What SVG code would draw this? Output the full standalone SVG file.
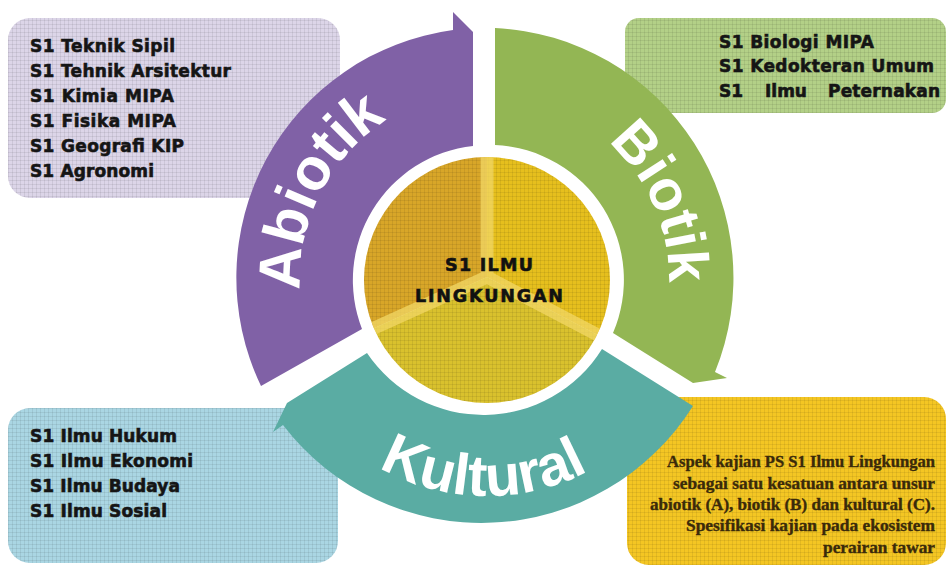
<svg xmlns="http://www.w3.org/2000/svg" width="949" height="567" viewBox="0 0 949 567">
  <defs>
    <style>
      .list { font-family: "DejaVu Sans", "Liberation Sans", sans-serif; font-weight: bold; font-size: 17px; fill: #151515; stroke: #151515; stroke-width: 0.6px; }
      .note { font-family: "Liberation Serif", "DejaVu Serif", serif; font-weight: bold; font-size: 16.5px; fill: #3a2a0a; stroke: #3a2a0a; stroke-width: 0.35px; text-anchor: end; }
      .ring { font-family: "Liberation Sans", Arial, sans-serif; font-weight: bold; fill: #ffffff; }
      .center-label { font-family: "DejaVu Sans", "Liberation Sans", sans-serif; font-weight: bold; font-size: 17.5px; fill: #111111; stroke: #111111; stroke-width: 0.6px; text-anchor: middle; }
      .grid { fill: url(#gridPat); }
      .stripe { stroke: #f2d766; stroke-width: 13; opacity: 0.75; fill: none; }
    </style>
    <pattern id="gridPat" width="4" height="4" patternUnits="userSpaceOnUse">
      <path d="M0 0.5H4 M0.5 0V4" stroke="#000000" stroke-opacity="0.07" stroke-width="1"/>
    </pattern>
    <clipPath id="circleClip">
      <circle cx="487" cy="280" r="123"/>
    </clipPath>
    <path id="pathAbiotik" d="M325.1 371.5 A187 187 0 0 1 467.5 92"/>
    <path id="pathBiotik" d="M518.6 98.8 A182 182 0 0 1 639.6 377.1"/>
    <path id="pathKultural" d="M298.2 387 A218 218 0 0 0 671.9 393.5"/>
  </defs>

  <rect width="949" height="567" fill="#ffffff"/>

  <!-- Boxes -->
  <g id="box-abiotik">
    <rect x="8" y="18" width="332" height="180" rx="22" fill="#dcd5e8"/>
    <rect x="8" y="18" width="332" height="180" rx="22" class="grid"/>
    <text class="list" x="30" y="52" textLength="145" lengthAdjust="spacing">S1 Teknik Sipil</text>
    <text class="list" x="30" y="77" textLength="201" lengthAdjust="spacing">S1 Tehnik Arsitektur</text>
    <text class="list" x="30" y="102" textLength="144" lengthAdjust="spacing">S1 Kimia MIPA</text>
    <text class="list" x="30" y="127" textLength="146" lengthAdjust="spacing">S1 Fisika MIPA</text>
    <text class="list" x="30" y="152" textLength="154" lengthAdjust="spacing">S1 Geografi KIP</text>
    <text class="list" x="30" y="177" textLength="124" lengthAdjust="spacing">S1 Agronomi</text>
  </g>

  <g id="box-biotik">
    <rect x="625" y="18" width="321" height="95" rx="14" fill="#b3d087"/>
    <rect x="625" y="18" width="321" height="95" rx="14" class="grid"/>
    <text class="list" x="719" y="48" textLength="155" lengthAdjust="spacing">S1 Biologi MIPA</text>
    <text class="list" x="719" y="72" textLength="215" lengthAdjust="spacing">S1 Kedokteran Umum</text>
    <text class="list" y="97"><tspan x="719">S1</tspan> <tspan x="765">Ilmu</tspan> <tspan x="828" textLength="112" lengthAdjust="spacing">Peternakan</tspan></text>
  </g>

  <g id="box-kultural">
    <rect x="8" y="408" width="330" height="155" rx="22" fill="#aad6e3"/>
    <rect x="8" y="408" width="330" height="155" rx="22" class="grid"/>
    <text class="list" x="30" y="442" textLength="147" lengthAdjust="spacing">S1 Ilmu Hukum</text>
    <text class="list" x="30" y="467" textLength="163" lengthAdjust="spacing">S1 Ilmu Ekonomi</text>
    <text class="list" x="30" y="492" textLength="150" lengthAdjust="spacing">S1 Ilmu Budaya</text>
    <text class="list" x="30" y="517" textLength="137" lengthAdjust="spacing">S1 Ilmu Sosial</text>
  </g>

  <g id="box-aspek">
    <rect x="627" y="397" width="319" height="168" rx="22" fill="#f4c623"/>
    <rect x="627" y="397" width="319" height="168" rx="22" class="grid"/>
    <text class="note" x="935" y="467" textLength="268" lengthAdjust="spacingAndGlyphs">Aspek kajian PS S1 Ilmu Lingkungan</text>
    <text class="note" x="935" y="489" textLength="262" lengthAdjust="spacingAndGlyphs">sebagai satu kesatuan antara unsur</text>
    <text class="note" x="935" y="510" textLength="285" lengthAdjust="spacingAndGlyphs">abiotik (A), biotik (B) dan kultural (C).</text>
    <text class="note" x="935" y="531" textLength="249" lengthAdjust="spacingAndGlyphs">Spesifikasi kajian pada ekosistem</text>
    <text class="note" x="935" y="553" textLength="112" lengthAdjust="spacingAndGlyphs">perairan tawar</text>
  </g>

  <!-- Cycle arrows -->
  <g id="connectors">
    <g id="arrow-abiotik">
      <path d="M362 329 L261 386 A250 250 0 0 1 453 30 L453 12 L473 32 L473 146 A135 135 0 0 0 362 329 Z" fill="#8061a6"/>
      <text class="ring" font-size="59"><textPath href="#pathAbiotik" startOffset="50%" text-anchor="middle">Abiotik</textPath></text>
    </g>
    <g id="arrow-biotik">
      <path d="M495 28 A250 250 0 0 1 715 372 L727 378 L693 383 L613 333 A135 135 0 0 0 495 145 Z" fill="#93b654"/>
      <text class="ring" font-size="57"><textPath href="#pathBiotik" startOffset="50%" text-anchor="middle">Biotik</textPath></text>
    </g>
    <g id="arrow-kultural">
      <path d="M602 349 L693 406 A250 250 0 0 1 283 425 L273 432 L287 403 L367 353 A140 140 0 0 0 602 349 Z" fill="#5aaca3"/>
      <text class="ring" font-size="58"><textPath href="#pathKultural" startOffset="50%" text-anchor="middle">Kultural</textPath></text>
    </g>
  </g>

  <!-- Center -->
  <g id="center">
    <g clip-path="url(#circleClip)">
      <polygon points="487,277 487,0 100,0 100,452.6" fill="#d8a628"/>
      <polygon points="487,277 487,0 900,0 900,493.8" fill="#e6bf1d"/>
      <polygon points="487,277 100,452.6 100,700 900,700 900,493.8" fill="#d9c12d"/>
      <rect x="360" y="150" width="260" height="260" class="grid"/>
      <path class="stripe" d="M487 277 V140 M487 277 L330 348 M487 277 L640 357"/>
    </g>
    <text class="center-label" x="489" y="271" textLength="88" lengthAdjust="spacing">S1 ILMU</text>
    <text class="center-label" x="489" y="302" textLength="148" lengthAdjust="spacing">LINGKUNGAN</text>
  </g>
</svg>
